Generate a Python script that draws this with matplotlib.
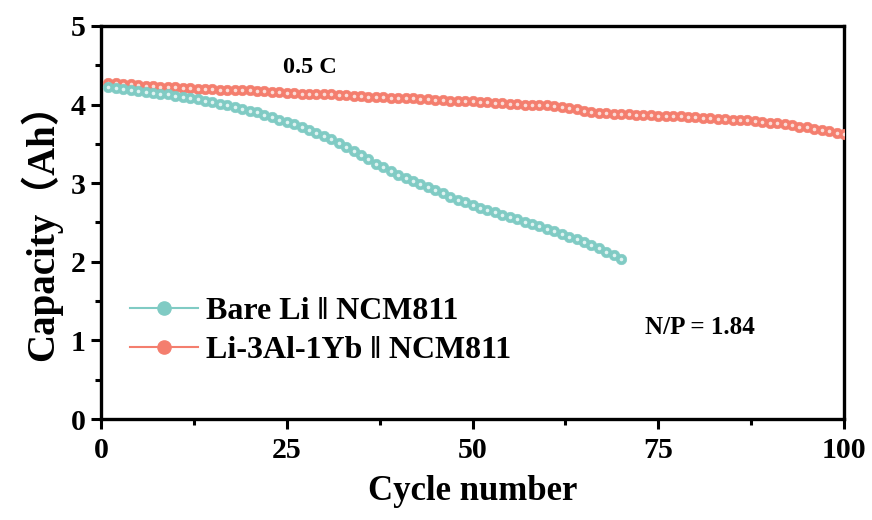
import matplotlib
matplotlib.use("Agg")
import matplotlib.pyplot as plt
from matplotlib.lines import Line2D
from matplotlib.ticker import MultipleLocator

plt.rcParams['font.family'] = ['Liberation Serif', 'Noto Sans CJK SC', 'DejaVu Sans']
plt.rcParams['font.weight'] = 'bold'

# Discharge capacity (Ah) per cycle
bare_capacity = [
    4.22, 4.21, 4.20, 4.18, 4.17, 4.16, 4.15, 4.14, 4.13, 4.11,
    4.10, 4.08, 4.07, 4.05, 4.03, 4.01, 3.99, 3.97, 3.95, 3.92,
    3.90, 3.87, 3.84, 3.81, 3.78, 3.75, 3.71, 3.68, 3.64, 3.60,
    3.56, 3.51, 3.46, 3.41, 3.36, 3.31, 3.25, 3.20, 3.15, 3.11,
    3.07, 3.03, 2.99, 2.95, 2.91, 2.87, 2.83, 2.79, 2.76, 2.72,
    2.69, 2.66, 2.63, 2.60, 2.57, 2.54, 2.51, 2.48, 2.45, 2.42,
    2.39, 2.36, 2.32, 2.29, 2.25, 2.21, 2.17, 2.13, 2.09, 2.04,
]
alloy_capacity = [
    4.28, 4.27, 4.26, 4.26, 4.25, 4.24, 4.24, 4.23, 4.22, 4.22,
    4.21, 4.21, 4.20, 4.20, 4.20, 4.19, 4.19, 4.19, 4.18, 4.18,
    4.17, 4.17, 4.16, 4.16, 4.15, 4.15, 4.14, 4.14, 4.14, 4.13,
    4.13, 4.12, 4.12, 4.11, 4.11, 4.10, 4.10, 4.10, 4.09, 4.09,
    4.08, 4.08, 4.07, 4.07, 4.06, 4.06, 4.05, 4.05, 4.04, 4.04,
    4.03, 4.03, 4.02, 4.02, 4.01, 4.01, 4.00, 4.00, 3.99, 3.99,
    3.98, 3.97, 3.96, 3.94, 3.92, 3.90, 3.89, 3.89, 3.88, 3.88,
    3.88, 3.87, 3.87, 3.87, 3.86, 3.86, 3.85, 3.85, 3.84, 3.84,
    3.83, 3.83, 3.82, 3.82, 3.81, 3.81, 3.80, 3.79, 3.78, 3.77,
    3.76, 3.75, 3.74, 3.72, 3.71, 3.69, 3.68, 3.66, 3.64, 3.62,
]
bare_cycles = list(range(1, len(bare_capacity) + 1))
alloy_cycles = list(range(1, len(alloy_capacity) + 1))

series_labels = ["Bare Li \u2016 NCM811", "Li-3Al-1Yb \u2016 NCM811"]
teal = "#80CBC4"
teal_hi = "#E6F6F4"
coral = "#F47E6E"
coral_hi = "#FCE3DF"

fig = plt.figure(figsize=(8.72, 5.2), dpi=100)
ax = fig.add_axes([101 / 872, 1 - 419 / 520, (844 - 101) / 872, (419 - 26) / 520])


def sphere_series(x, y, base, hi, z):
    ax.plot(x, y, '-', color=base, lw=1.0, zorder=z)
    ax.plot(x, y, 'o', ms=7.6, mfc=base, mec=base, mew=0.4, zorder=z + 0.1)
    ax.plot(x, y, 'o', ms=2.6, mfc=hi, mec=hi, mew=0.0, alpha=0.95, zorder=z + 0.2)


sphere_series(alloy_cycles, alloy_capacity, coral, coral_hi, 3)
sphere_series(bare_cycles, bare_capacity, teal, teal_hi, 4)

ax.set_xlim(0, 100)
ax.set_ylim(0, 5)
ax.xaxis.set_major_locator(MultipleLocator(25))
ax.xaxis.set_minor_locator(MultipleLocator(12.5))
ax.yaxis.set_major_locator(MultipleLocator(1))
ax.yaxis.set_minor_locator(MultipleLocator(0.5))
ax.tick_params(which='major', direction='out', length=7, width=2.2, labelsize=21.5)
ax.tick_params(axis='x', which='major', pad=6)
ax.tick_params(axis='y', which='major', pad=4)
ax.tick_params(which='minor', direction='out', length=4.5, width=2.2)
for lab in ax.get_xticklabels() + ax.get_yticklabels():
    lab.set_fontweight('bold')
for s in ax.spines.values():
    s.set_linewidth(2.4)

ax.set_xlabel("Cycle number", fontsize=25, fontweight='bold', labelpad=8)
ax.set_ylabel("Capacity\uff08Ah\uff09", fontsize=28, fontweight='bold', labelpad=6,
              family=['Liberation Serif', 'Noto Sans CJK SC'])

ax.text(28.1, 4.47, "0.5 C", fontsize=17.5, fontweight='bold', ha='center', va='center')
ax.text(80.6, 1.16, "N/P = 1.84", fontsize=18, fontweight='bold', ha='center', va='center')

handles = [
    Line2D([0], [0], color=teal, lw=1.5, marker='o', ms=9.5, mfc=teal, mec=teal),
    Line2D([0], [0], color=coral, lw=1.5, marker='o', ms=9.5, mfc=coral, mec=coral),
]
ax.legend(handles, series_labels, loc='upper left', bbox_to_anchor=(0.0, 0.385),
          frameon=False, handlelength=2.15, handletextpad=0.25,
          labelspacing=0.3, prop={'weight': 'bold', 'size': 23,
                                  'family': ['Liberation Serif', 'DejaVu Sans']})

fig.savefig("out.png", dpi=100)
